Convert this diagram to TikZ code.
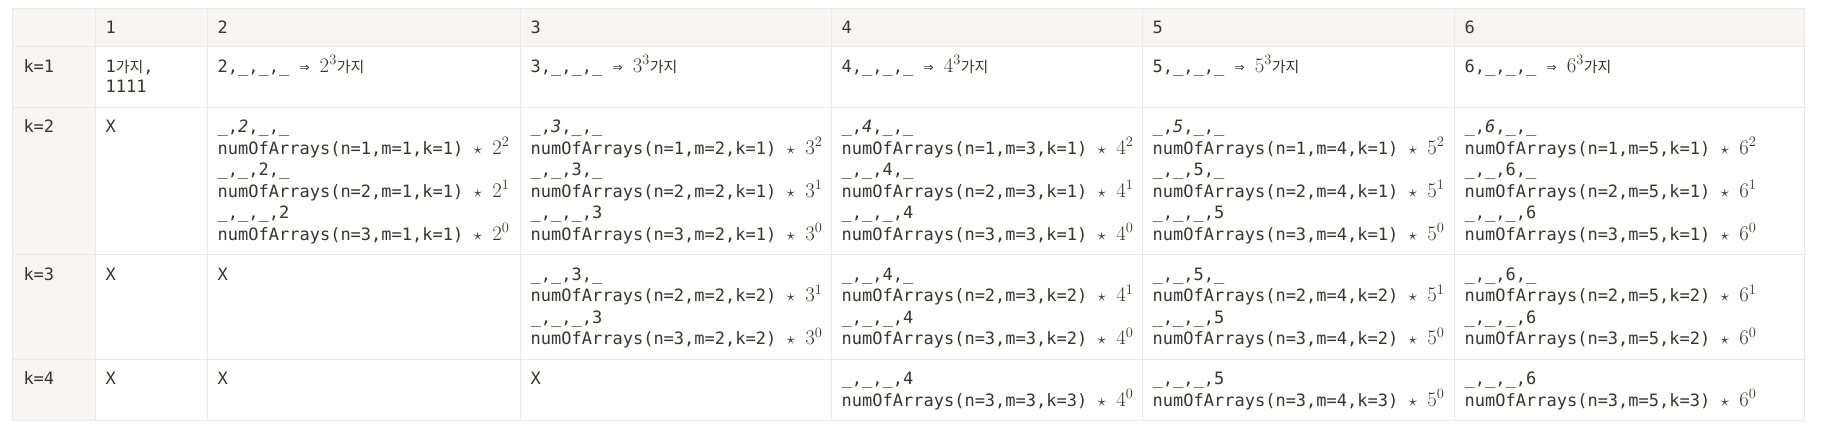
\documentclass[tikz,border=0pt]{standalone}
\usepackage{fontspec}
\setmonofont{DejaVu Sans Mono}
\newfontfamily\kr[Scale=0.88]{Noto Sans CJK KR}
\definecolor{txt}{HTML}{37352F}
\definecolor{bgc}{HTML}{F7F6F3}
\definecolor{gridc}{HTML}{E9E9E7}
\newcommand\Lines[1]{\vtop{\baselineskip=21.6pt\lineskiplimit=-100pt\lineskip=0pt\halign{##\hfil\cr#1\crcr}}}
\newcommand\pw[2]{{\fontsize{20.5}{21.6}\selectfont$#1^{#2}$}}
\newcommand\NA[5]{numOfArrays(n=#1,m=#2,k=#3) $\star$ \pw{#4}{#5}}
\newcommand\gaji{{\kr 가지}}
\newcommand\arr{{\fontsize{16.5}{16.5}\selectfont ⇒}}
\newcommand\kone[1]{#1,\_,\_,\_ \arr{} \pw{#1}{3}\gaji}
\begin{document}
\begin{tikzpicture}[x=1pt,y=-1pt,
  cell/.style={anchor=base west,inner sep=0pt,text=txt,font=\fontsize{17}{21.6}\selectfont\ttfamily},
  gridline/.style={draw=gridc,line width=1pt}]
\useasboundingbox (0,0) rectangle (1823,434);
\fill[white] (0,0) rectangle (1823,434);
\fill[bgc] (12.8,8) rectangle (1804,46.5);
\fill[bgc] (12.8,8) rectangle (95,420);
\draw[gridline] (12.8,8) rectangle (1804,420);
\foreach \x in {95,207,520,831,1142,1454} \draw[gridline] (\x,8) -- (\x,420);
\foreach \y in {46.5,107,254.6,359} \draw[gridline] (12.8,\y) -- (1804,\y);
% header
\node[cell] (h1) at (105.5,33.5) {1};
\node[cell] (h2) at (217.5,33.5) {2};
\node[cell] (h3) at (530.5,33.5) {3};
\node[cell] (h4) at (841.5,33.5) {4};
\node[cell] (h5) at (1152.5,33.5) {5};
\node[cell] (h6) at (1464.5,33.5) {6};
% k=1
\node[cell] (r1c0) at (23.3,72) {k=1};
\node[cell] (r1c1) at (105.5,72) {\vtop{\baselineskip=20pt\lineskiplimit=-100pt\lineskip=0pt\halign{#\hfil\cr 1\gaji,\cr 1111\crcr}}};
\node[cell] (r1c2) at (217.5,72) {\kone{2}};
\node[cell] (r1c3) at (530.5,72) {\kone{3}};
\node[cell] (r1c4) at (841.5,72) {\kone{4}};
\node[cell] (r1c5) at (1152.5,72) {\kone{5}};
\node[cell] (r1c6) at (1464.5,72) {\kone{6}};
% k=2
\node[cell] (r2c0) at (23.3,132.5) {k=2};
\node[cell] (r2c1) at (105.5,132.5) {X};
\node[cell] (r2c2) at (217.5,132.5) {\Lines{\_,\textit{2},\_,\_\cr \NA{1}{1}{1}{2}{2}\cr \_,\_,2,\_\cr \NA{2}{1}{1}{2}{1}\cr \_,\_,\_,2\cr \NA{3}{1}{1}{2}{0}}};
\node[cell] (r2c3) at (530.5,132.5) {\Lines{\_,\textit{3},\_,\_\cr \NA{1}{2}{1}{3}{2}\cr \_,\_,3,\_\cr \NA{2}{2}{1}{3}{1}\cr \_,\_,\_,3\cr \NA{3}{2}{1}{3}{0}}};
\node[cell] (r2c4) at (841.5,132.5) {\Lines{\_,\textit{4},\_,\_\cr \NA{1}{3}{1}{4}{2}\cr \_,\_,4,\_\cr \NA{2}{3}{1}{4}{1}\cr \_,\_,\_,4\cr \NA{3}{3}{1}{4}{0}}};
\node[cell] (r2c5) at (1152.5,132.5) {\Lines{\_,\textit{5},\_,\_\cr \NA{1}{4}{1}{5}{2}\cr \_,\_,5,\_\cr \NA{2}{4}{1}{5}{1}\cr \_,\_,\_,5\cr \NA{3}{4}{1}{5}{0}}};
\node[cell] (r2c6) at (1464.5,132.5) {\Lines{\_,\textit{6},\_,\_\cr \NA{1}{5}{1}{6}{2}\cr \_,\_,6,\_\cr \NA{2}{5}{1}{6}{1}\cr \_,\_,\_,6\cr \NA{3}{5}{1}{6}{0}}};
% k=3
\node[cell] (r3c0) at (23.3,280) {k=3};
\node[cell] (r3c1) at (105.5,280) {X};
\node[cell] (r3c2) at (217.5,280) {X};
\node[cell] (r3c3) at (530.5,280) {\Lines{\_,\_,3,\_\cr \NA{2}{2}{2}{3}{1}\cr \_,\_,\_,3\cr \NA{3}{2}{2}{3}{0}}};
\node[cell] (r3c4) at (841.5,280) {\Lines{\_,\_,4,\_\cr \NA{2}{3}{2}{4}{1}\cr \_,\_,\_,4\cr \NA{3}{3}{2}{4}{0}}};
\node[cell] (r3c5) at (1152.5,280) {\Lines{\_,\_,5,\_\cr \NA{2}{4}{2}{5}{1}\cr \_,\_,\_,5\cr \NA{3}{4}{2}{5}{0}}};
\node[cell] (r3c6) at (1464.5,280) {\Lines{\_,\_,6,\_\cr \NA{2}{5}{2}{6}{1}\cr \_,\_,\_,6\cr \NA{3}{5}{2}{6}{0}}};
% k=4
\node[cell] (r4c0) at (23.3,384.5) {k=4};
\node[cell] (r4c1) at (105.5,384.5) {X};
\node[cell] (r4c2) at (217.5,384.5) {X};
\node[cell] (r4c3) at (530.5,384.5) {X};
\node[cell] (r4c4) at (841.5,384.5) {\Lines{\_,\_,\_,4\cr \NA{3}{3}{3}{4}{0}}};
\node[cell] (r4c5) at (1152.5,384.5) {\Lines{\_,\_,\_,5\cr \NA{3}{4}{3}{5}{0}}};
\node[cell] (r4c6) at (1464.5,384.5) {\Lines{\_,\_,\_,6\cr \NA{3}{5}{3}{6}{0}}};
\end{tikzpicture}
\end{document}
